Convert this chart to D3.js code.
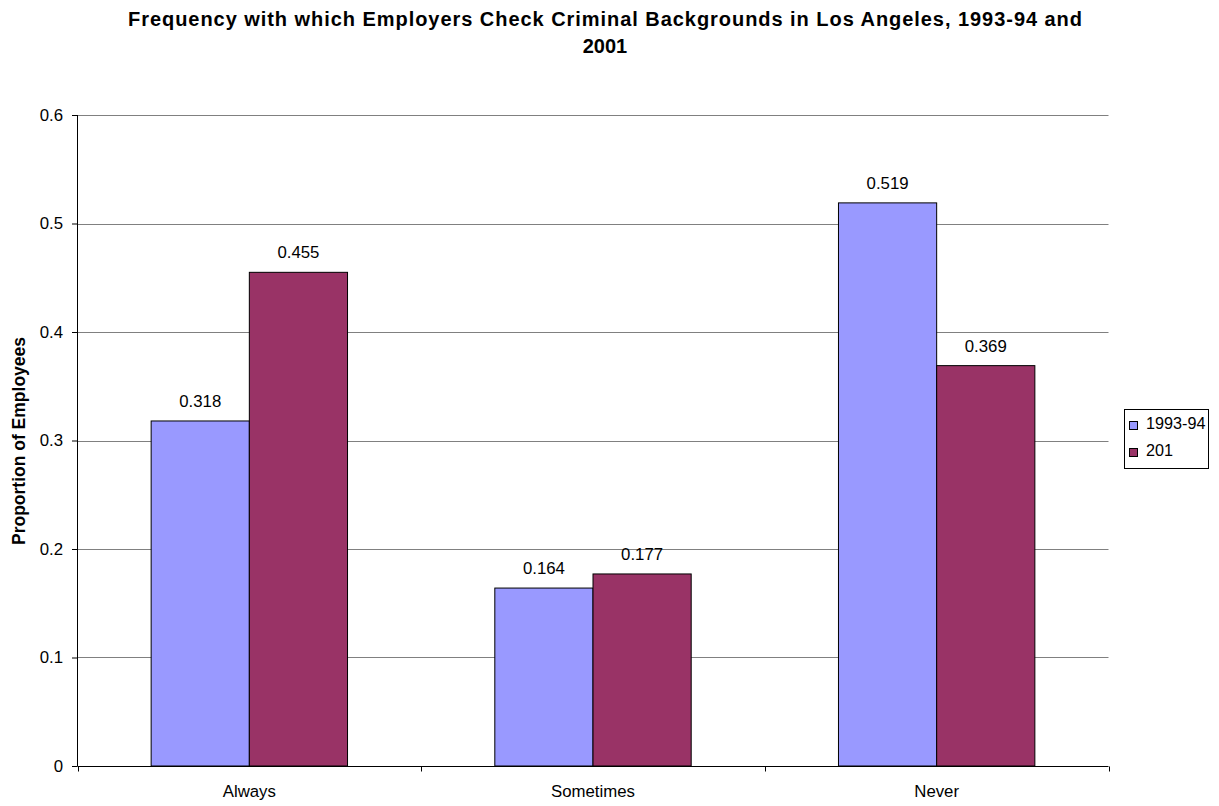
<!DOCTYPE html>
<html><head><meta charset="utf-8">
<script src="https://cdn.jsdelivr.net/npm/d3@7"></script>
<style>body{margin:0;background:#fff;} svg{display:block;font-family:"Liberation Sans",Arial,sans-serif;}</style>
</head><body>
<svg id="chart" width="1219" height="806"></svg>
<script>
const categories = ["Always", "Sometimes", "Never"];
const seriesNames = ["1993-94", "201"];
const values9394 = [0.318, 0.164, 0.519];
const values2001 = [0.455, 0.177, 0.369];
const yTicks = [0, 0.1, 0.2, 0.3, 0.4, 0.5, 0.6];
const colors = ["#9999ff", "#993366"];
const titleLines = ["Frequency with which Employers Check Criminal Backgrounds in Los Angeles, 1993-94 and", "2001"];
const yLabel = "Proportion of Employees";

const svg = d3.select("#chart");
const m = {left: 77.5, right: 1108.5, top: 115, bottom: 766};
const x = d3.scaleBand().domain(categories).range([m.left, m.right]).paddingInner(0).paddingOuter(0);
const gapRatio = 1.5;
const barW = x.bandwidth() / (2 + gapRatio);
const y = d3.scaleLinear().domain([0, 0.6]).range([m.bottom, m.top]);
const fs = 16.8;

// gridlines
svg.append("g").selectAll("line").data(yTicks.filter(d => d > 0)).join("line")
  .attr("x1", m.left).attr("x2", m.right)
  .attr("y1", d => Math.round(y(d)) + 0.5).attr("y2", d => Math.round(y(d)) + 0.5)
  .attr("stroke", "#808080").attr("stroke-width", 1);

// bars
const series = [values9394, values2001];
series.forEach((vals, si) => {
  svg.append("g").selectAll("rect").data(categories).join("rect")
    .attr("x", (c) => x(c) + barW * gapRatio / 2 + si * barW)
    .attr("y", (c, i) => y(vals[i]))
    .attr("width", barW)
    .attr("height", (c, i) => y(0) - y(vals[i]))
    .attr("fill", colors[si]).attr("stroke", "#000").attr("stroke-width", 1);
  svg.append("g").selectAll("text").data(categories).join("text")
    .attr("x", (c) => x(c) + barW * gapRatio / 2 + si * barW + barW / 2)
    .attr("y", (c, i) => y(vals[i]) - 14)
    .attr("text-anchor", "middle").attr("font-size", fs).attr("fill", "#000")
    .text((c, i) => vals[i]);
});

// y axis
const yAxis = svg.append("g").attr("transform", `translate(${m.left},0)`)
  .call(d3.axisLeft(y).tickValues(yTicks).tickSize(5.5).tickPadding(9).tickFormat(d => d));
yAxis.select(".domain").attr("stroke", "#000").attr("d", `M0,${m.top}V${m.bottom}`);
yAxis.selectAll(".tick line").attr("stroke", "#000");
yAxis.selectAll(".tick text").attr("font-size", fs).attr("font-family", "Liberation Sans, Arial, sans-serif").attr("fill", "#000");

// x axis
const xAxisG = svg.append("g").attr("transform", `translate(0,${m.bottom + 0.5})`);
xAxisG.append("line").attr("x1", m.left).attr("x2", m.right).attr("stroke", "#000");
const boundaries = [m.left].concat(categories.map(c => x(c) + x.bandwidth()));
xAxisG.selectAll("line.tk").data(boundaries).join("line").attr("class", "tk")
  .attr("x1", d => Math.round(d) + 0.5).attr("x2", d => Math.round(d) + 0.5)
  .attr("y1", 0).attr("y2", 5).attr("stroke", "#000");
xAxisG.selectAll("text").data(categories).join("text")
  .attr("x", c => x(c) + x.bandwidth() / 2).attr("y", 30.5)
  .attr("text-anchor", "middle").attr("font-size", fs).attr("fill", "#000").text(c => c);

// title
svg.append("g").selectAll("text").data(titleLines).join("text")
  .attr("x", 605).attr("y", (d, i) => 26 + i * 26.5)
  .attr("text-anchor", "middle").attr("font-size", 20).attr("font-weight", "bold")
  .each(function(d, i) { if (i === 0) d3.select(this).attr("textLength", 954).attr("lengthAdjust", "spacing"); })
  .text(d => d);

// y label
svg.append("text").attr("transform", `translate(25,441) rotate(-90)`)
  .attr("text-anchor", "middle").attr("font-size", 17.5).attr("font-weight", "bold")
  .attr("textLength", 208).attr("lengthAdjust", "spacing").text(yLabel);

// legend
const lg = svg.append("g");
lg.append("rect").attr("x", 1124.5).attr("y", 409.5).attr("width", 84).attr("height", 59)
  .attr("fill", "#fff").attr("stroke", "#000");
seriesNames.forEach((s, i) => {
  lg.append("rect").attr("x", 1129.5).attr("y", 421.5 + i * 27).attr("width", 8).attr("height", 8)
    .attr("fill", colors[i]).attr("stroke", "#000");
  lg.append("text").attr("x", 1146).attr("y", 429 + i * 27).attr("font-size", 16.2).text(s);
});
</script>
</body></html>
